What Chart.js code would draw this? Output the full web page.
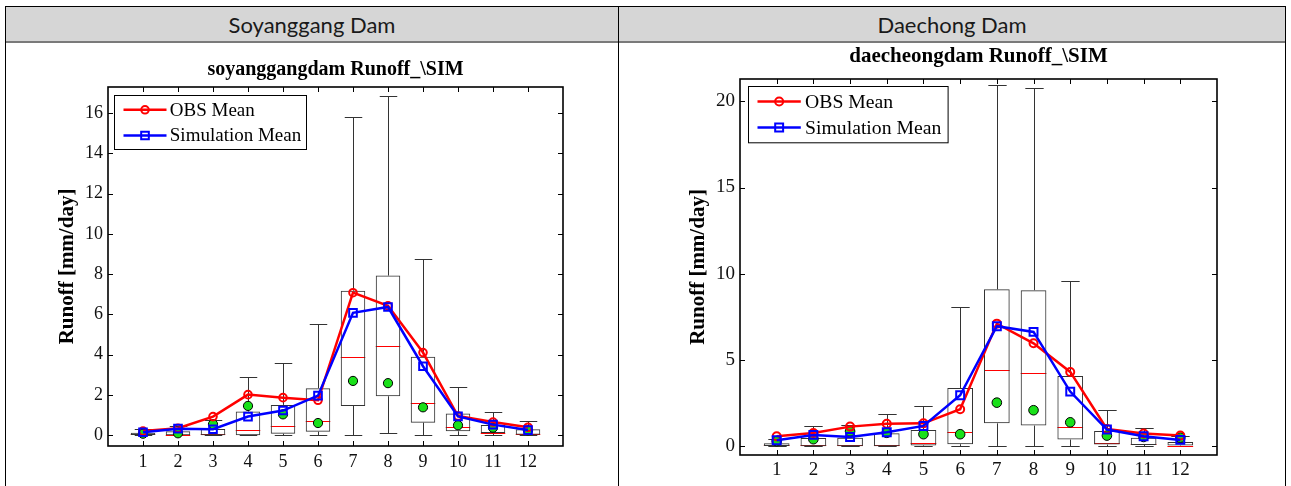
<!DOCTYPE html>
<html><head><meta charset="utf-8">
<script src="https://cdn.jsdelivr.net/npm/chart.js@4.4.1/dist/chart.umd.min.js"></script>
<style>
body{margin:0;background:#fff;width:1291px;height:486px;overflow:hidden;position:relative;}
.abs{position:absolute;}
#outer{left:5px;top:6px;width:1281px;height:500px;border:1px solid #000;box-sizing:border-box;}
#hdr{left:6px;top:7px;width:1279px;height:35px;background:#d6d6d6;}
#hline{left:6px;top:41px;width:1279px;height:2px;background:#7a7a7a;}
#vdiv{left:618px;top:6px;width:1px;height:480px;background:#000;}
.htxt{top:7px;height:35px;line-height:35px;font-family:Lato,'Noto Sans',sans-serif;font-size:22px;color:#1a1a1a;text-align:center;}
#h1{left:6px;width:612px;}
#h2{left:619px;width:666px;}
canvas{position:absolute;}
#c1{left:6px;top:43px;}
#c2{left:619px;top:43px;}
</style></head>
<body>
<div id="outer" class="abs"></div>
<div id="hdr" class="abs"></div>
<div id="hline" class="abs"></div>
<div id="vdiv" class="abs"></div>
<div id="h1" class="abs htxt">Soyanggang Dam</div>
<div id="h2" class="abs htxt">Daechong Dam</div>
<canvas id="c1" width="612" height="443"></canvas>
<canvas id="c2" width="666" height="443"></canvas>
<script>
// ---------- DATA ----------
const months = [1,2,3,4,5,6,7,8,9,10,11,12];
const legendLabels = ['OBS Mean', 'Simulation Mean'];

// Soyanggang Dam
const soyTitle = 'soyanggangdam Runoff_\\SIM';
const soyYTicks = [0,2,4,6,8,10,12,14,16];
const soyObsMean = [0.21,0.35,0.93,2.02,1.87,1.74,7.08,6.43,4.11,0.96,0.66,0.40];
const soySimMean = [0.15,0.33,0.30,0.93,1.23,1.97,6.08,6.37,3.43,0.94,0.53,0.26];
const soyGreen   = [0.08,0.10,0.55,1.46,1.04,0.61,2.70,2.59,1.39,0.50,0.38,0.25];
const soyLow     = [0,0,0,0,0,0,0,0.10,0.03,0.03,0,0];
const soyQ1      = [0.02,0,0,0,0.08,0.18,1.46,1.94,0.63,0.20,0.12,0.03];
const soyMedian  = [0.05,0.02,0.05,0.25,0.46,0.73,3.90,4.41,1.61,0.40,0.10,0.05];
const soyQ3      = [0.13,0.20,0.32,1.18,1.51,2.34,7.18,7.93,3.90,1.08,0.51,0.30];
const soyHigh    = [0.30,0.45,0.75,2.90,3.58,5.52,15.79,16.85,8.74,2.39,1.16,0.71];

// Daechong Dam
const daeTitle = 'daecheongdam Runoff_\\SIM';
const daeYTicks = [0,5,10,15,20];
const daeObsMean = [0.58,0.77,1.14,1.31,1.33,2.15,7.11,5.97,4.31,1.00,0.74,0.62];
const daeSimMean = [0.35,0.66,0.54,0.81,1.18,2.96,6.96,6.63,3.17,0.97,0.58,0.37];
const daeGreen   = [0.30,0.41,0.87,0.78,0.70,0.70,2.53,2.09,1.39,0.62,0.54,0.50];
const daeLow     = [0,0,0,0,0,0,0,0.04,0.04,0.04,0,0];
const daeQ1      = [0.02,0,0,0,0.05,0.12,1.33,1.20,0.39,0.10,0.08,0.04];
const daeMedian  = [0.05,0.10,0.07,0.08,0.20,0.81,4.41,4.27,1.14,0.17,0.12,0.02];
const daeQ3      = [0.17,0.48,0.50,0.75,0.95,3.38,9.10,9.05,4.08,0.89,0.50,0.25];
const daeHigh    = [0.40,1.18,1.26,1.90,2.34,8.06,20.94,20.75,9.57,2.09,1.06,0.58];

// ---------- RENDER ----------
const SERIF = "'Liberation Serif','Times New Roman',serif";
Chart.defaults.font.family = SERIF;
Chart.defaults.color = '#000';

const BOX_W = 0.7, CAP_W = 0.5;
const BOX_COLOR = '#333';

const decor = {
  id: 'decor',
  beforeDatasetsDraw(chart, args, o) {
    const {ctx} = chart, x = chart.scales.x, y = chart.scales.y;
    ctx.save();
    ctx.lineWidth = 1;
    ctx.strokeStyle = BOX_COLOR;
    ctx.beginPath();
    o.cats.forEach((m, i) => {
      const px = Math.round(x.getPixelForValue(m)) + 0.5;
      const ch = x.getPixelForValue(m + CAP_W/2) - x.getPixelForValue(m);
      const yq1 = y.getPixelForValue(o.q1[i]), yq3 = y.getPixelForValue(o.q3[i]);
      const ylo = Math.round(y.getPixelForValue(o.low[i])) + 0.5, yhi = Math.round(y.getPixelForValue(o.high[i])) + 0.5;
      ctx.moveTo(px, yq3); ctx.lineTo(px, yhi);
      ctx.moveTo(px, yq1); ctx.lineTo(px, ylo);
      ctx.moveTo(px - ch, yhi); ctx.lineTo(px + ch, yhi);
      ctx.moveTo(px - ch, ylo); ctx.lineTo(px + ch, ylo);
    });
    ctx.stroke();
    ctx.strokeStyle = '#ff0000';
    ctx.beginPath();
    o.cats.forEach((m, i) => {
      const px = x.getPixelForValue(m);
      const bh = x.getPixelForValue(m + BOX_W/2) - px;
      const ym = Math.round(y.getPixelForValue(o.med[i])) + 0.5;
      ctx.moveTo(px - bh, ym); ctx.lineTo(px + bh, ym);
    });
    ctx.stroke();
    ctx.restore();
  },
  afterDraw(chart, args, o) {
    const {ctx, chartArea: a} = chart, x = chart.scales.x, y = chart.scales.y;
    ctx.save();
    // axes box
    ctx.strokeStyle = '#000';
    ctx.lineWidth = 1.6;
    ctx.strokeRect(a.left, a.top, a.right - a.left, a.bottom - a.top);
    // inward ticks
    ctx.lineWidth = 1;
    ctx.beginPath();
    const TL = 5;
    x.ticks.forEach(t => {
      const px = Math.round(x.getPixelForValue(t.value)) + 0.5;
      ctx.moveTo(px, a.bottom); ctx.lineTo(px, a.bottom - TL);
      ctx.moveTo(px, a.top); ctx.lineTo(px, a.top + TL);
    });
    y.ticks.forEach(t => {
      const py = Math.round(y.getPixelForValue(t.value)) + 0.5;
      ctx.moveTo(a.left, py); ctx.lineTo(a.left + TL, py);
      ctx.moveTo(a.right, py); ctx.lineTo(a.right - TL, py);
    });
    ctx.stroke();
    // legend
    const L = o.legend;
    const bx = Math.round(a.left + L.dx) + 0.5, by = Math.round(a.top + L.dy) + 0.5;
    ctx.fillStyle = '#fff';
    ctx.fillRect(bx, by, L.w, L.h);
    ctx.strokeStyle = '#000';
    ctx.lineWidth = 1;
    ctx.strokeRect(bx, by, L.w, L.h);
    const items = chart.data.datasets.filter(d => d.inLegend);
    items.forEach((d, k) => {
      const ry = by + L.rows[k];
      const x0 = bx + L.line[0], x1 = bx + L.line[1], xm = (x0 + x1) / 2;
      ctx.strokeStyle = d.borderColor;
      ctx.lineWidth = d.borderWidth;
      ctx.beginPath(); ctx.moveTo(x0, ry); ctx.lineTo(x1, ry); ctx.stroke();
      ctx.lineWidth = d.pointBorderWidth;
      ctx.beginPath();
      if (d.pointStyle === 'rect') {
        const s = Math.SQRT1_2 * d.pointRadius;
        ctx.rect(xm - s, ry - s, 2*s, 2*s);
      } else {
        ctx.arc(xm, ry, d.pointRadius, 0, Math.PI*2);
      }
      ctx.stroke();
      ctx.fillStyle = '#000';
      ctx.font = L.font + 'px ' + SERIF;
      ctx.textBaseline = 'middle';
      ctx.textAlign = 'left';
      ctx.fillText(d.label, bx + L.text, ry + 1);
    });
    ctx.restore();
  }
};

function makeChart(id, s) {
  const pts = arr => months.map((m, i) => ({x: m, y: arr[i]}));
  return new Chart(document.getElementById(id), {
    type: 'bar',
    data: {
      datasets: [
        { type: 'bar', label: 'box', data: months.map((m, i) => ({x: m, y: [s.q1[i], s.q3[i]]})),
          backgroundColor: 'rgba(0,0,0,0)', borderColor: BOX_COLOR, borderWidth: 1, borderSkipped: false,
          barPercentage: BOX_W, categoryPercentage: 1, order: 3 },
        { type: 'line', label: 'green', data: pts(s.green), showLine: false,
          pointRadius: s.greenR, pointBackgroundColor: '#19e019', pointBorderColor: '#000', pointBorderWidth: 1, order: 2 },
        { type: 'line', label: legendLabels[0], inLegend: true, data: pts(s.obs), borderColor: '#ff0000', borderWidth: 2.5,
          pointStyle: 'circle', pointRadius: s.circR, pointBorderWidth: 2, pointBorderColor: '#ff0000',
          pointBackgroundColor: 'rgba(0,0,0,0)', tension: 0, order: 1 },
        { type: 'line', label: legendLabels[1], inLegend: true, data: pts(s.sim), borderColor: '#0000ff', borderWidth: 2.5,
          pointStyle: 'rect', pointRadius: s.rectR, pointBorderWidth: 2, pointBorderColor: '#0000ff',
          pointBackgroundColor: 'rgba(0,0,0,0)', tension: 0, order: 0 }
      ]
    },
    options: {
      responsive: false, animation: false, events: [],
      layout: { padding: s.pad },
      scales: {
        x: { type: 'linear', min: 0, max: 13, offset: false,
             grid: { display: false, drawTicks: false }, border: { display: false },
             afterBuildTicks: sc => { sc.ticks = months.map(v => ({value: v})); },
             afterFit: sc => { sc.height = s.xH; },
             ticks: { autoSkip: false, maxRotation: 0, padding: s.xPad, font: { size: s.tickFont }, color: '#111',
                      callback: v => String(v) } },
        y: { type: 'linear', min: s.yMin, max: s.yMax,
             grid: { display: false, drawTicks: false }, border: { display: false },
             afterBuildTicks: sc => { sc.ticks = s.yTicks.map(v => ({value: v})); },
             afterFit: sc => { sc.width = s.yW; },
             ticks: { autoSkip: false, padding: 5, font: { size: s.tickFont }, color: '#111', callback: v => String(v) },
             title: { display: true, text: 'Runoff [mm/day]', font: { size: 21, weight: 'bold' }, color: '#000',
                      padding: { top: 4, bottom: 4 } } }
      },
      plugins: {
        legend: { display: false },
        tooltip: { enabled: false },
        title: { display: true, text: s.title, fullSize: false, color: '#000',
                 font: { size: s.titleFont, weight: 'bold' }, padding: s.titlePad },
        decor: { cats: months, q1: s.q1, q3: s.q3, low: s.low, high: s.high, med: s.med, legend: s.legend }
      }
    },
    plugins: [decor]
  });
}

makeChart('c1', {
  title: soyTitle, yTicks: soyYTicks, yMin: -0.53, yMax: 17.29,
  obs: soyObsMean, sim: soySimMean, green: soyGreen,
  low: soyLow, q1: soyQ1, med: soyMedian, q3: soyQ3, high: soyHigh,
  pad: { left: 45, right: 55, top: 0, bottom: 4 }, yW: 57, xH: 36, xPad: 5,
  tickFont: 18, titleFont: 20, titlePad: { top: 15, bottom: 5 },
  greenR: 4.6, circR: 3.8, rectR: 5.4,
  legend: { dx: 6, dy: 8, w: 192, h: 54, rows: [14.3, 40], line: [9, 52], text: 55.3, font: 19 }
});

makeChart('c2', {
  title: daeTitle, yTicks: daeYTicks, yMin: -0.505, yMax: 21.29,
  obs: daeObsMean, sim: daeSimMean, green: daeGreen,
  low: daeLow, q1: daeQ1, med: daeMedian, q3: daeQ3, high: daeHigh,
  pad: { left: 63, right: 68, top: 0, bottom: 3 }, yW: 58, xH: 28, xPad: 4,
  tickFont: 19, titleFont: 21, titlePad: { top: 1.4, bottom: 9.4 },
  greenR: 4.8, circR: 4, rectR: 5.6,
  legend: { dx: 7.7, dy: 6.7, w: 199.6, h: 56.3, rows: [15, 41], line: [9, 52.3], text: 56.6, font: 19.7 }
});
</script>
</body></html>
